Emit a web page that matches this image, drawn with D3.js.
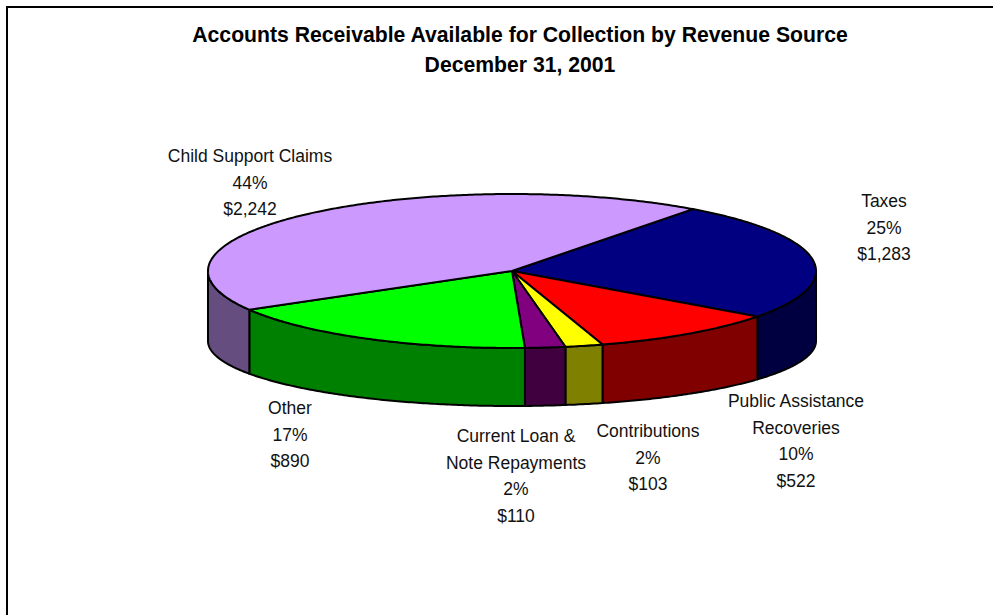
<!DOCTYPE html>
<html>
<head>
<meta charset="utf-8">
<script src="https://cdn.jsdelivr.net/npm/d3@7"></script>
<style>
  html, body { margin: 0; padding: 0; background: #fff; }
  svg { display: block; }
</style>
</head>
<body>
<svg id="chart" width="993" height="615"></svg>
<script>
// Revenue sources, in drawing order (clockwise from the Taxes slice)
const categories = [
  "Taxes",
  "Public Assistance Recoveries",
  "Contributions",
  "Current Loan & Note Repayments",
  "Other",
  "Child Support Claims"
];
// Amounts receivable (thousands of dollars)
const amounts = [1283, 522, 103, 110, 890, 2242];
// How each category name is broken over lines in its label
const labelLines = [
  ["Taxes"],
  ["Public Assistance", "Recoveries"],
  ["Contributions"],
  ["Current Loan &", "Note Repayments"],
  ["Other"],
  ["Child Support Claims"]
];
const titleLines = [
  "Accounts Receivable Available for Collection by Revenue Source",
  "December 31, 2001"
];

// Styling
const topColors  = ["#000080", "#FF0000", "#FFFF00", "#800080", "#00FF00", "#CC99FF"];
const sideColors = ["#000040", "#800000", "#808000", "#400040", "#008000", "#664D80"];

// Label anchor points (first baseline, centred)
const labelAnchors = [
  [884, 207], [796, 407], [648, 437], [516, 442], [290, 414], [250, 162]
];
const lineH = 26.5;

// Pie geometry: top face ellipse and bottom rim ellipse
const cx = 512, cyTop = 271, rx = 304, ryTop = 77;
const cyBot = 341, ryBot = 65;
const startDeg = 36.5;

const svg = d3.select("#chart");

// Outer frame
svg.append("path")
  .attr("d", "M7,620 L7,7 L1000,7")
  .attr("fill", "none")
  .attr("stroke", "#000")
  .attr("stroke-width", 2);

// Title
svg.append("g").selectAll("text")
  .data(titleLines)
  .join("text")
  .attr("x", 520)
  .attr("y", (d, i) => 42 + i * 30)
  .attr("text-anchor", "middle")
  .attr("font-family", "'Liberation Sans', Arial, sans-serif")
  .attr("font-weight", "bold")
  .attr("font-size", 21.2)
  .attr("fill", "#000")
  .text(d => d);

const total = d3.sum(amounts);
const pie = d3.pie()
  .sort(null)
  .value(d => d)
  .startAngle(startDeg * Math.PI / 180)
  .endAngle(startDeg * Math.PI / 180 + 2 * Math.PI);
const arcs = pie(amounts);

const topPt = a => [cx + rx * Math.sin(a), cyTop - ryTop * Math.cos(a)];
const botPt = a => [cx + rx * Math.sin(a), cyBot - ryBot * Math.cos(a)];
const sample = (a0, a1, f) => {
  const n = Math.max(2, Math.ceil(Math.abs(a1 - a0) / 0.01));
  return d3.range(n + 1).map(i => f(a0 + (a1 - a0) * i / n));
};
const line = d3.line();

// Visible front rim: angles between 90° and 270°
const frontLo = Math.PI / 2, frontHi = 3 * Math.PI / 2;
const sides = svg.append("g");
arcs.forEach((d, i) => {
  [0, 2 * Math.PI].forEach(shift => {
    const a0 = Math.max(d.startAngle - shift, frontLo);
    const a1 = Math.min(d.endAngle - shift, frontHi);
    if (a1 <= a0) return;
    const pts = sample(a0, a1, topPt).concat(sample(a1, a0, botPt));
    sides.append("path")
      .attr("d", line(pts) + "Z")
      .attr("fill", sideColors[i])
      .attr("stroke", "#000")
      .attr("stroke-width", 2)
      .attr("stroke-linejoin", "round");
  });
});

// Top faces
svg.append("g").selectAll("path")
  .data(arcs)
  .join("path")
  .attr("d", d => line([[cx, cyTop]].concat(sample(d.startAngle, d.endAngle, topPt))) + "Z")
  .attr("fill", (d, i) => topColors[i])
  .attr("stroke", "#000")
  .attr("stroke-width", 2)
  .attr("stroke-linejoin", "round");

// Data labels: name, percent, amount
const fmtAmt = d3.format("$,");
const labels = svg.append("g")
  .attr("font-family", "'Liberation Sans', Arial, sans-serif")
  .attr("font-size", 17.5)
  .attr("fill", "#111");
arcs.forEach((d, i) => {
  const rows = labelLines[i].concat([
    Math.round(d.value / total * 100) + "%",
    fmtAmt(d.value)
  ]);
  const [x, y] = labelAnchors[i];
  labels.append("g").selectAll("text")
    .data(rows)
    .join("text")
    .attr("x", x)
    .attr("y", (r, k) => y + k * lineH)
    .attr("text-anchor", "middle")
    .text(r => r);
});
</script>
</body>
</html>
